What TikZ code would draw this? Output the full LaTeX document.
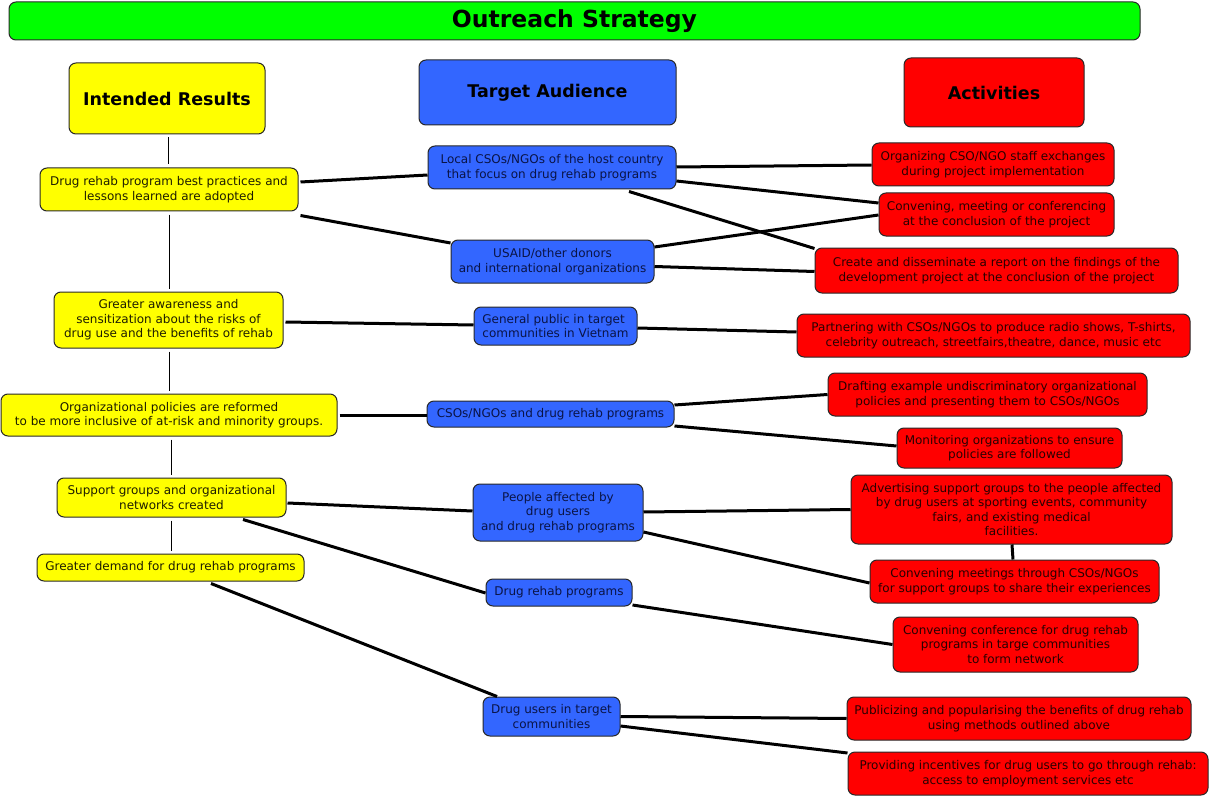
\documentclass[tikz,border=0pt]{standalone}
\usepackage{fontspec}
\setmainfont{DejaVu Sans}
\usetikzlibrary{calc}
\definecolor{cgreen}{RGB}{0,255,0}
\definecolor{cyellow}{RGB}{255,255,0}
\definecolor{cblue}{RGB}{51,102,255}
\definecolor{cred}{RGB}{255,0,0}
\definecolor{tblue}{RGB}{10,20,70}
\definecolor{tred}{RGB}{40,0,0}
\definecolor{tyellow}{RGB}{30,30,0}
\definecolor{bord}{RGB}{40,40,40}
\tikzset{
  box/.style={draw=bord, line width=1pt, rounded corners=7pt, inner sep=0pt, align=center,
    font=\fontsize{12}{14.4}\selectfont},
  ybox/.style={box, fill=cyellow, text=tyellow},
  bbox/.style={box, fill=cblue, text=tblue},
  rbox/.style={box, fill=cred, text=tred},
  headbox/.style={box, font=\fontsize{17.5}{20}\selectfont\bfseries, text=black},
  conn/.style={draw=black, line width=3pt},
  thin/.style={draw=black, line width=1pt, shorten >=3pt, shorten <=3pt},
  wd/.style={minimum width=#1pt},
  ht/.style={minimum height=#1pt}
}
\begin{document}
\begin{tikzpicture}[x=1pt,y=-1pt]
\useasboundingbox[fill=white] (0,0) rectangle (1211,797);
% title and headers
\node[headbox, fill=cgreen, wd=1131, ht=38, font=\fontsize{23.5}{26}\selectfont\bfseries] (title) at (574.5,21) {Outreach Strategy};
\node[headbox, fill=cyellow, wd=196, ht=71] (IR) at (167,98.5) {Intended Results};
\node[headbox, fill=cblue, wd=257, ht=65] (TA) at (547.5,92.5) {Target Audience};
\node[headbox, fill=cred, wd=180, ht=69] (AC) at (994,92.5) {Activities};
% left column
\node[ybox, wd=258, ht=43] (L1) at (169,189.5) {Drug rehab program best practices and\\lessons learned are adopted};
\node[ybox, wd=229, ht=56] (L2) at (168.5,320) {Greater awareness and\\sensitization about the risks of\\drug use and the benefits of rehab};
\node[ybox, wd=336, ht=42] (L3) at (169,415) {Organizational policies are reformed\\to be more inclusive of at-risk and minority groups.};
\node[ybox, wd=229, ht=39] (L4) at (171.5,497.5) {Support groups and organizational\\networks created};
\node[ybox, wd=267, ht=27] (L5) at (170.5,567.5) {Greater demand for drug rehab programs};
% middle column
\node[bbox, wd=248, ht=43] (M1) at (552,167.5) {Local CSOs/NGOs of the host country\\that focus on drug rehab programs};
\node[bbox, wd=203, ht=43] (M2) at (552.5,261.5) {USAID/other donors\\and international organizations};
\node[bbox, wd=163, ht=38, align=left] (M3) at (555.5,326) {General public in target\\communities in Vietnam};
\node[bbox, wd=247, ht=26] (M4) at (550.5,414) {CSOs/NGOs and drug rehab programs};
\node[bbox, wd=170, ht=57] (M5) at (558,512.5) {People affected by\\drug users\\and drug rehab programs};
\node[bbox, wd=146, ht=27] (M6) at (559,592.5) {Drug rehab programs};
\node[bbox, wd=137, ht=39] (M7) at (551.5,716.5) {Drug users in target\\communities};
% right column
\node[rbox, wd=242, ht=43] (R1) at (993,164.5) {Organizing CSO/NGO staff exchanges\\during project implementation};
\node[rbox, wd=235, ht=43] (R2) at (996.5,214.5) {Convening, meeting or conferencing\\at the conclusion of the project};
\node[rbox, wd=363, ht=45] (R3) at (996.5,270.5) {Create and disseminate a report on the findings of the\\development project at the conclusion of the project};
\node[rbox, wd=393, ht=43] (R4) at (993.5,335.5) {Partnering with CSOs/NGOs to produce radio shows, T-shirts,\\celebrity outreach, streetfairs,theatre, dance, music etc};
\node[rbox, wd=319, ht=43] (R5) at (987.5,394.5) {Drafting example undiscriminatory organizational\\policies and presenting them to CSOs/NGOs};
\node[rbox, wd=225, ht=40] (R6) at (1009.5,448) {Monitoring organizations to ensure\\policies are followed};
\node[rbox, wd=321, ht=69] (R7) at (1011.5,509.5) {Advertising support groups to the people affected\\by drug users at sporting events, community\\fairs, and existing medical\\facilities.};
\node[rbox, wd=289, ht=43] (R8) at (1014.5,581.5) {Convening meetings through CSOs/NGOs\\for support groups to share their experiences};
\node[rbox, wd=245, ht=55] (R9) at (1015.5,644.5) {Convening conference for drug rehab\\programs in targe communities\\to form network};
\node[rbox, wd=344, ht=43] (R10) at (1019,718.5) {Publicizing and popularising the benefits of drug rehab\\using methods outlined above};
\node[rbox, wd=360, ht=43] (R11) at (1028,773.5) {Providing incentives for drug users to go through rehab:\\access to employment services etc};
% thin vertical links
\draw[thin] ([xshift=1pt]IR.south) -- ([xshift=-1pt]L1.north);
\draw[thin] (L1.south) -- (L1.south |- L2.north);
\draw[thin] (L3.north |- L2.south) -- (L3.north);
\draw[thin] (L4.north |- L3.south) -- (L4.north);
\draw[thin] (L4.south) -- (L4.south |- L5.north);
% connectors
\draw[conn] ([shift={(2pt,7.5pt)}]L1.east) -- ([yshift=-7.5pt]M1.west);
\draw[conn] ([shift={(2pt,-4pt)}]L1.south east) -- ([yshift=18.5pt]M2.west);
\draw[conn] ([yshift=0.5pt]M1.east) -- ([yshift=-0.5pt]R1.west);
\draw[conn] ([yshift=-13.5pt]M1.east) -- ([yshift=11.5pt]R2.west);
\draw[conn] ([yshift=14.5pt]M2.east) -- ([yshift=-0.5pt]R2.west);
\draw[conn] ([shift={(77pt,-2pt)}]M1.south) -- ([yshift=-1pt]R3.north west);
\draw[conn] ([yshift=-5pt]M2.east) -- ([yshift=-1pt]R3.west);
\draw[conn] ([shift={(2pt,-2pt)}]L2.east) -- ([yshift=1pt]M3.west);
\draw[conn] ([yshift=-2pt]M3.east) -- ([yshift=3.5pt]R4.west);
\draw[conn] ([xshift=2pt]L3.east) -- (L3.east -| M4.west);
\draw[conn] ([yshift=9pt]M4.east) -- (R5.west);
\draw[conn] ([yshift=-12pt]M4.east) -- ([yshift=2pt]R6.west);
\draw[conn] ([shift={(1pt,-5.5pt)}]L4.east) -- ([yshift=1.5pt]M5.west);
\draw[conn] ([shift={(71.5pt,-2pt)}]L4.south) -- ([yshift=-0.5pt]M6.west);
\draw[conn] ([shift={(40.5pt,-2pt)}]L5.south) -- ([xshift=-54.5pt]M7.north);
\draw[conn] ([yshift=0.5pt]M5.east) -- (R7.west);
\draw[conn] ([yshift=-19.5pt]M5.east) -- ([yshift=-1.5pt]R8.west);
\draw[conn] ([yshift=-12.5pt]M6.east) -- (R9.west);
\draw[conn] ([xshift=0.5pt]R7.south) -- ([xshift=-1.5pt]R8.north);
\draw[conn] (M7.east) -- (R10.west);
\draw[conn] ([yshift=-9.5pt]M7.east) -- ([yshift=20.5pt]R11.west);
\end{tikzpicture}
\end{document}
